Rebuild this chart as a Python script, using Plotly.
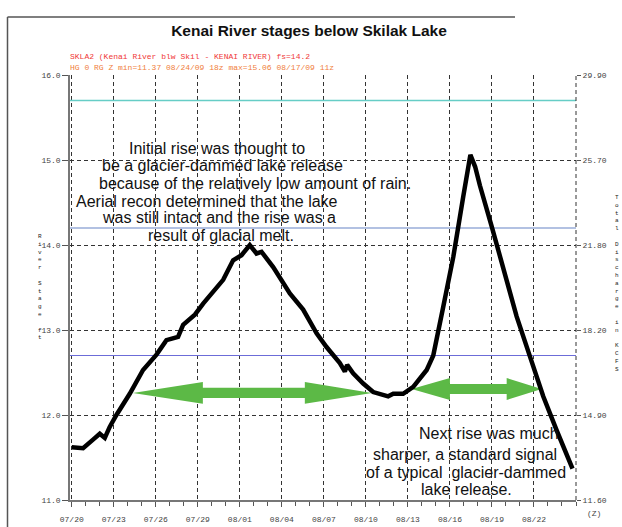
import plotly.graph_objects as go
import pandas as pd

# ---------------- data ----------------
BASE = "2009-07-20"
days = [0.0, 0.81, 1.52, 2.0, 2.36, 2.71, 3.19, 4.14, 5.09, 6.05, 6.76, 7.59, 7.95,
        8.79, 9.38, 10.09, 10.81, 11.52, 12.12, 12.71, 13.19, 13.55, 14.38, 15.57,
        16.52, 17.48, 18.19, 19.14, 19.5, 19.66, 20.09, 20.81, 21.52, 22.59, 22.95,
        23.66, 24.38, 25.34, 25.81, 26.52, 27.24, 27.95, 28.2, 28.46, 28.8, 29.14,
        29.98, 30.81, 31.76, 32.71, 33.66, 34.62, 35.75]
stage = [11.62, 11.61, 11.71, 11.78, 11.73, 11.86, 12.0, 12.25, 12.53, 12.71, 12.88,
         12.92, 13.06, 13.18, 13.31, 13.45, 13.59, 13.82, 13.88, 14.0, 13.90, 13.92,
         13.74, 13.43, 13.24, 12.96, 12.80, 12.61, 12.51, 12.59, 12.49, 12.37, 12.27,
         12.22, 12.25, 12.25, 12.33, 12.53, 12.70, 13.27, 13.86, 14.57, 14.85, 15.06,
         14.92, 14.70, 14.22, 13.71, 13.16, 12.69, 12.22, 11.82, 11.37]

date_labels = ["07/20", "07/23", "07/26", "07/29", "08/01", "08/04", "08/07",
               "08/10", "08/13", "08/16", "08/19", "08/22"]
stage_ticks = [11, 12, 13, 14, 15, 16]
stage_labels = ["11.0", "12.0", "13.0", "14.0", "15.0", "16.0"]
flow_labels = ["11.60", "14.90", "18.20", "21.80", "25.70", "29.90"]

ref_levels = [15.7, 14.2, 12.7]
ref_colors = ["#66cdc6", "#98acd8", "#6c6cd8"]
ref_widths = [1.5, 1.5, 1.2]

# arrows: (left tip, left head base, right head base, right tip, centre stage) in days
arrows = [(4.36, 9.36, 16.64, 21.43, 12.26),
          (24.26, 27.0, 31.05, 33.55, 12.306)]

note1 = ["Initial rise was thought to",
         "be a glacier-dammed lake release",
         "because of the relatively low amount of rain.",
         "Aerial recon determined that the lake",
         "was still intact and the rise was a",
         "result of glacial melt."]
note2 = ["Next rise was much",
         "sharper, a standard signal",
         "of a typical  glacier-dammed",
         "lake release."]

title = "Kenai River stages below Skilak Lake"
head1 = "SKLA2 (Kenai River blw Skil - KENAI RIVER) fs=14.2"
head2 = "HG 0 RG Z min=11.37 08/24/09 18z max=15.06 08/17/09 11z"
left_title = "River Stage ft"
right_title = "Total Discharge in KCFS"

# ---------------- helpers ----------------
W, H = 622, 527
ML, MR, MT, MB = 70, 46, 75, 27
PW, PH = W - ML - MR, H - MT - MB


def px(x):
    return (x - ML) / PW


def py(y):
    return (H - MB - y) / PH


def t(d):
    return pd.Timestamp(BASE) + pd.to_timedelta(d, unit="D")


x0 = t(-0.125)
x1 = t(36)
tickdates = [pd.Timestamp("2009-" + s.replace("/", "-")) for s in date_labels]

fig = go.Figure()

# reference level lines
for lv, c, w in zip(ref_levels, ref_colors, ref_widths):
    fig.add_trace(go.Scatter(x=[x0, x1], y=[lv, lv], mode="lines",
                             line=dict(color=c, width=w), hoverinfo="skip",
                             showlegend=False))

# green arrows
for tl, bl, br, tr, yc in arrows:
    h, s = 0.129, 0.06
    xs = [tl, bl, bl, br, br, tr, br, br, bl, bl, tl]
    ys = [yc, yc + h, yc + s, yc + s, yc + h, yc, yc - h, yc - s, yc - s, yc - h, yc]
    fig.add_trace(go.Scatter(x=[t(v) for v in xs], y=ys, mode="lines", fill="toself",
                             fillcolor="#5cb946", line=dict(width=0, color="#5cb946"),
                             hoverinfo="skip", showlegend=False))

# stage hydrograph
fig.add_trace(go.Scatter(x=[t(d) for d in days], y=stage, mode="lines",
                         line=dict(color="black", width=4.5), showlegend=False))

# invisible trace for right axis
fig.add_trace(go.Scatter(x=[x0], y=[11], yaxis="y2", mode="markers",
                         marker=dict(opacity=0), hoverinfo="skip", showlegend=False))

mono = "Liberation Mono, DejaVu Sans Mono, monospace"
tickfont = dict(family=mono, size=8, color="#444")
small = dict(family=mono, size=8, color="#444")
txtfont = dict(family="Arial, Liberation Sans, sans-serif", size=16, color="#111")

fig.update_layout(
    width=W, height=H,
    margin=dict(l=ML, r=MR, t=MT, b=MB, autoexpand=False),
    paper_bgcolor="white", plot_bgcolor="white",
    title=dict(text="<b>" + title + "</b>", x=309 / W, xref="container", xanchor="center",
               y=1 - 31 / H, yref="container", yanchor="middle",
               font=dict(family="Arial, Liberation Sans, sans-serif", size=15.5,
                         color="#111")),
    xaxis=dict(type="date", range=[x0, x1], tickmode="array", tickvals=tickdates,
               ticktext=date_labels, tickfont=tickfont, ticks="outside", ticklen=5,
               tickcolor="#555", ticklabelstandoff=6, automargin=False,
               showgrid=True, gridcolor="#333", griddash="4px,3px", gridwidth=1,
               showline=True, linecolor="#777", linewidth=1.5, zeroline=False,
               minor=dict(tick0=BASE, dtick=86400000, ticks="outside", ticklen=4,
                          tickcolor="#555", showgrid=False)),
    yaxis=dict(range=[11, 16], tickvals=stage_ticks, ticktext=stage_labels,
               tickfont=tickfont, ticks="outside", ticklen=6, tickcolor="#555",
               automargin=False,
               showgrid=True, gridcolor="#333", griddash="4px,3px", gridwidth=1,
               showline=True, linecolor="#777", linewidth=1.5, zeroline=False),
    yaxis2=dict(range=[11, 16], overlaying="y", side="right", tickvals=stage_ticks,
                ticktext=flow_labels, tickfont=tickfont, ticks="outside", ticklen=4,
                tickcolor="#555", showgrid=False, showline=False, zeroline=False,
                automargin=False),
    shapes=[
        dict(type="line", xref="paper", yref="paper", x0=1, x1=1, y0=0, y1=1,
             line=dict(color="#333", width=1, dash="4px,3px")),
        dict(type="line", xref="paper", yref="paper", x0=px(7.5), x1=px(7.5),
             y0=py(17), y1=py(527), line=dict(color="#555", width=1.5)),
        dict(type="line", xref="paper", yref="paper", x0=px(7.5), x1=px(515),
             y0=py(17), y1=py(17), line=dict(color="#555", width=1.5)),
    ],
)

ann = []
ann.append(dict(text=head1, x=px(68), y=py(56), xref="paper", yref="paper",
                xanchor="left", yanchor="middle", showarrow=False,
                font=dict(family=mono, size=8, color="#f03838")))
ann.append(dict(text=head2, x=px(68), y=py(67), xref="paper", yref="paper",
                xanchor="left", yanchor="middle", showarrow=False,
                font=dict(family=mono, size=8, color="#f08040")))

n1_x = [128, 101, 98, 75, 101, 147]
n1_y = [148, 165, 183, 201, 218, 236]
for s, xx, yy in zip(note1, n1_x, n1_y):
    ann.append(dict(text=s, x=px(xx), y=py(yy), xref="paper", yref="paper",
                    xanchor="left", yanchor="middle", showarrow=False, font=txtfont,
                    borderpad=0))
n2_x = [418, 372, 365, 420]
n2_y = [433, 454, 472, 489]
for s, xx, yy in zip(note2, n2_x, n2_y):
    ann.append(dict(text=s, x=px(xx), y=py(yy), xref="paper", yref="paper",
                    xanchor="left", yanchor="middle", showarrow=False, font=txtfont,
                    borderpad=0))

# stacked (one letter per line) axis titles
for txt, xc, ytop in [(left_title, 40, 232), (right_title, 617, 193)]:
    ann.append(dict(text="<br>".join(ch if ch != " " else "&nbsp;" for ch in txt),
                    x=px(xc), y=py(ytop), xref="paper", yref="paper",
                    xanchor="center", yanchor="top", showarrow=False, borderpad=0,
                    font=dict(family=mono, size=6, color="#222")))

ann.append(dict(text="(Z)", x=px(594), y=py(513), xref="paper", yref="paper",
                xanchor="center", yanchor="middle", showarrow=False, font=small))

fig.update_layout(annotations=ann)

fig.write_html("out.html", config={"displayModeBar": False},
               post_script="document.body.style.margin='0px';")
